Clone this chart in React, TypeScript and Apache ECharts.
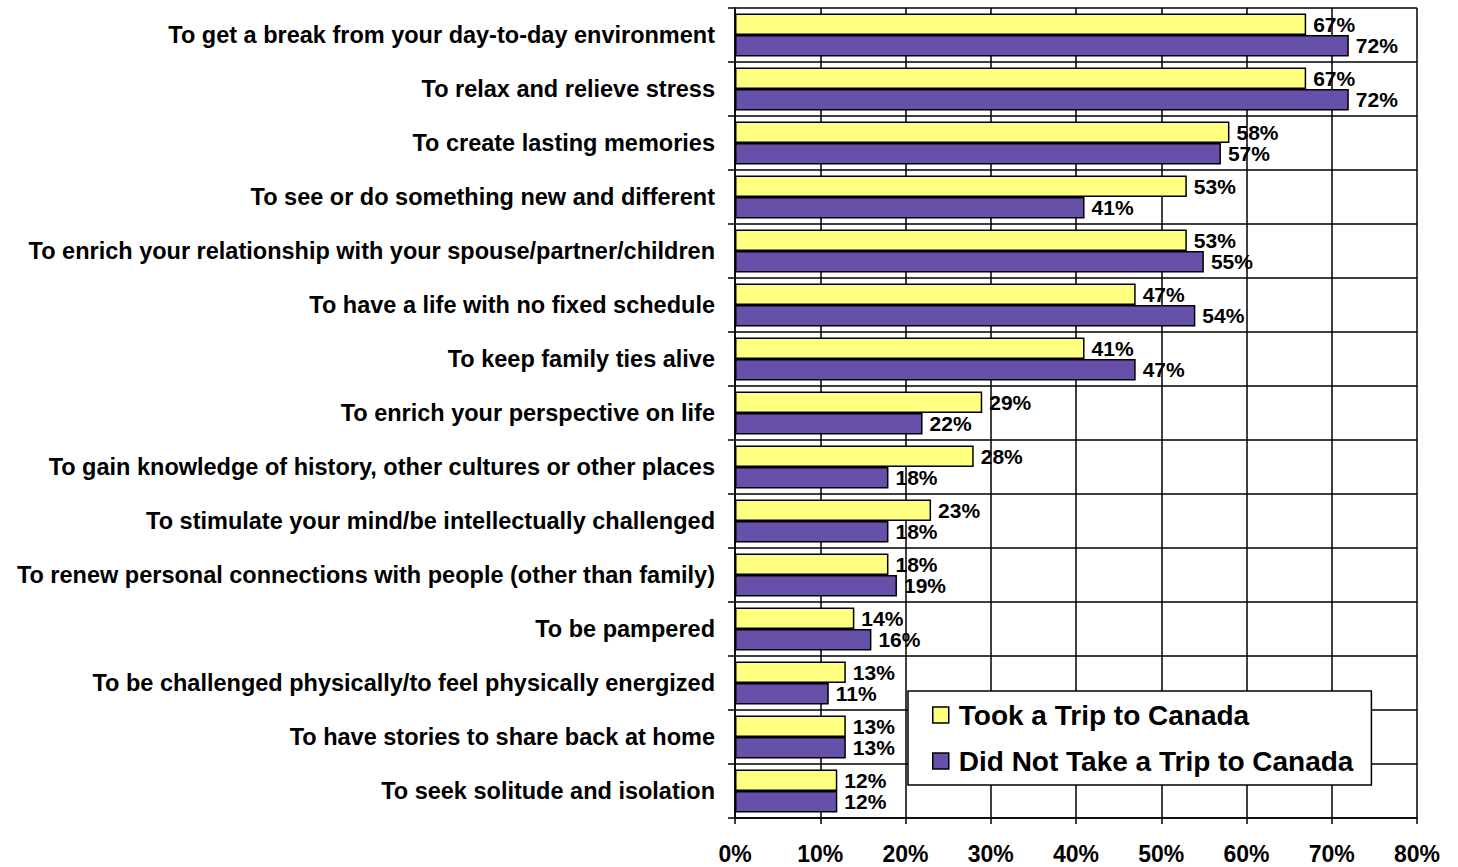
import React, { useEffect, useRef } from "react";
import * as echarts from "echarts";

const categories = [
  "To get a break from your day-to-day environment",
  "To relax and relieve stress",
  "To create lasting memories",
  "To see or do something new and different",
  "To enrich your relationship with your spouse/partner/children",
  "To have a life with no fixed schedule",
  "To keep family ties alive",
  "To enrich your perspective on life",
  "To gain knowledge of history, other cultures or other places",
  "To stimulate your mind/be intellectually challenged",
  "To renew personal connections with people (other than family)",
  "To be pampered",
  "To be challenged physically/to feel physically energized",
  "To have stories to share back at home",
  "To seek solitude and isolation",
];

const tookTrip = [67, 67, 58, 53, 53, 47, 41, 29, 28, 23, 18, 14, 13, 13, 12];
const didNotTake = [72, 72, 57, 41, 55, 54, 47, 22, 18, 18, 19, 16, 11, 13, 12];

const seriesNames = ["Took a Trip to Canada", "Did Not Take a Trip to Canada"];
const xTicks = { min: 0, max: 80, interval: 10 };

const FONT = "Liberation Sans, Arial, sans-serif";

export default function App() {
  const ref = useRef<HTMLDivElement>(null);

  useEffect(() => {
    if (!ref.current) return;
    const chart = echarts.init(ref.current, undefined, { renderer: "svg" });
    const labelCfg = {
      show: true,
      position: "right" as const,
      distance: 7,
      formatter: "{c}%",
      color: "#000",
      fontFamily: FONT,
      fontWeight: "bold" as const,
      fontSize: 21,
    };
    chart.setOption({
      animation: false,
      backgroundColor: "#fff",
      textStyle: { fontFamily: FONT },
      grid: { left: 735, right: 41, top: 8, bottom: 49, containLabel: false },
      legend: {
        orient: "vertical",
        left: 908,
        top: 691,
        backgroundColor: "#fff",
        borderColor: "#000",
        borderWidth: 1.5,
        padding: [9, 18, 9, 24],
        itemWidth: 16,
        itemHeight: 16,
        itemGap: 16,
        icon: "rect",
        itemStyle: { borderColor: "#000", borderWidth: 1.5 },
        textStyle: {
          fontFamily: FONT,
          fontWeight: "bold",
          fontSize: 28,
          color: "#000",
          lineHeight: 30,
          padding: [0, 0, 0, 5],
        },
        data: seriesNames,
      },
      xAxis: {
        type: "value",
        min: xTicks.min,
        max: xTicks.max,
        interval: xTicks.interval,
        axisLine: { show: true, lineStyle: { color: "#000", width: 1.5 } },
        axisTick: { show: true, length: 6, lineStyle: { color: "#000", width: 1.5 } },
        splitLine: { show: true, lineStyle: { color: "#000", width: 1.5 } },
        axisLabel: {
          formatter: "{value}%",
          color: "#000",
          fontFamily: FONT,
          fontWeight: "bold",
          fontSize: 23,
          margin: 24,
        },
      },
      yAxis: {
        type: "category",
        data: categories,
        inverse: true,
        axisLine: { show: true, lineStyle: { color: "#000", width: 1.5 } },
        axisTick: { show: true, length: 7, lineStyle: { color: "#000", width: 1.5 } },
        splitLine: { show: true, lineStyle: { color: "#000", width: 1.5 } },
        axisLabel: {
          color: "#000",
          fontFamily: FONT,
          fontWeight: "bold",
          fontSize: 23.5,
          margin: 20,
        },
      },
      series: [
        {
          name: seriesNames[0],
          type: "bar",
          data: tookTrip,
          barWidth: 21.5,
          barGap: "0%",
          itemStyle: { color: "#FFFF80", borderColor: "#000", borderWidth: 1.5 },
          label: labelCfg,
        },
        {
          name: seriesNames[1],
          type: "bar",
          data: didNotTake,
          barWidth: 21.5,
          barGap: "0%",
          itemStyle: { color: "#6650AA", borderColor: "#000", borderWidth: 1.5 },
          label: labelCfg,
        },
      ],
    });
    return () => chart.dispose();
  }, []);

  return (
    <div
      ref={ref}
      style={{ position: "absolute", left: 0, top: 0, width: 1458, height: 867 }}
    />
  );
}
